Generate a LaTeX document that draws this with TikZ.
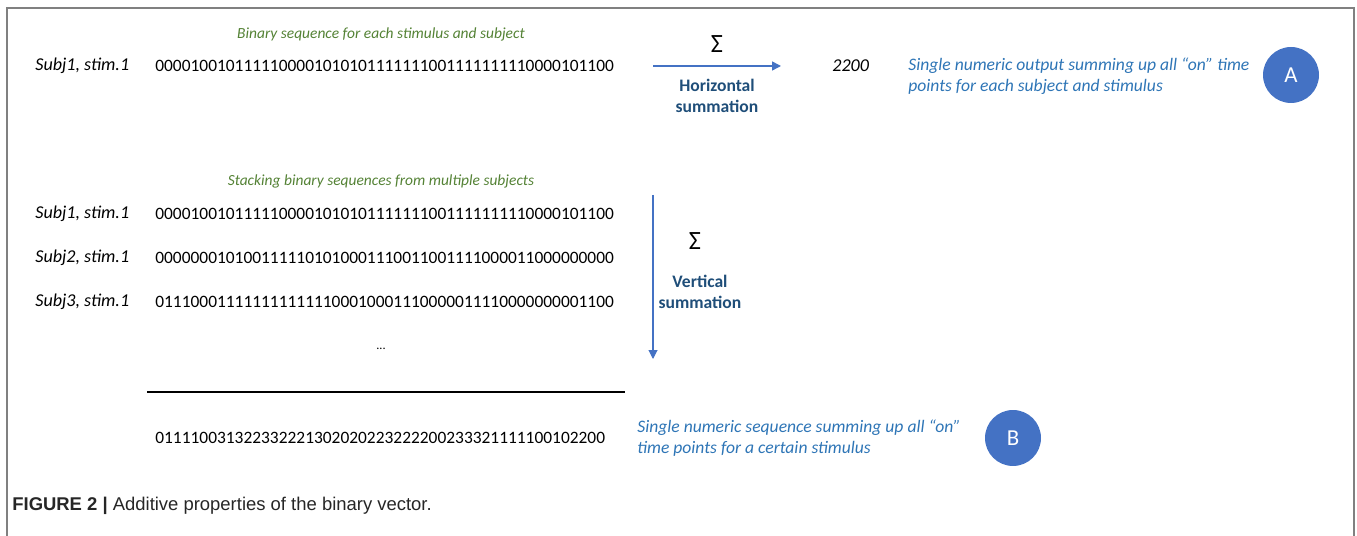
\documentclass[tikz,border=0pt]{standalone}
\usepackage{fontspec}
\setmainfont{Carlito}
\newfontfamily\capfont{Liberation Sans}
\usetikzlibrary{arrows.meta,positioning}
\definecolor{headgreen}{HTML}{548235}
\definecolor{noteblue}{HTML}{2E75B6}
\definecolor{darkblue}{HTML}{1F4E79}
\definecolor{badgeblue}{HTML}{4472C4}

\begin{document}
\begin{tikzpicture}[x=0.02cm,y=-0.02cm,
  seq/.style={anchor=west,inner sep=0pt,font=\fontsize{9.9}{12}\selectfont},
  subj/.style={anchor=west,inner sep=0pt,font=\fontsize{10.3}{12}\selectfont\itshape},
  head/.style={inner sep=0pt,text=headgreen,font=\fontsize{8.8}{10}\selectfont\itshape},
  note/.style={anchor=west,align=left,inner sep=0pt,text=noteblue,font=\fontsize{10}{12}\selectfont\itshape},
  sumlabel/.style={align=center,inner sep=0pt,text=darkblue,font=\fontsize{10}{12}\selectfont\bfseries},
  sigma/.style={inner sep=0pt,font=\fontsize{15}{15}\selectfont},
  badge/.style={circle,fill=badgeblue,text=white,minimum size=1.12cm,inner sep=0pt,font=\fontsize{13}{15}\selectfont},
  sumarrow/.style={badgeblue,line width=0.8pt,-{Triangle[length=5pt,width=5pt]}}]
\useasboundingbox (0,0) rectangle (1357,536);
% frame
\draw[gray,line width=0.8pt] (7,536) -- (7,8) -- (1354,8) -- (1354,536);

% horizontal summation
\node[head] (head1) at (381,34) {Binary sequence for each stimulus and subject};
\node[subj] (subj0) at (35,66) {Subj1, stim.1};
\node[seq] (bits0) at (155,66) {0000100101111100001010101111111001111111110000101100};
\coordinate (h0) at (653,66);
\coordinate (h1) at (781,66);
\draw[sumarrow] (h0) -- (h1);
\node[sigma] (sig1) at (717,44) {Σ};
\node[sumlabel] (hsum) at (717,95.5) {Horizontal\\summation};
\node[subj] (total0) at (832,66) {2200};
\node[note] (noteA) at (908,76.5) {Single numeric output summing up all “on” time\\points for each subject and stimulus};
\node[badge] (A) at (1291,75) {A};

% vertical summation
\node[head] (head2) at (381,181) {Stacking binary sequences from multiple subjects};
\foreach \row/\yy/\bits in {1/214/0000100101111100001010101111111001111111110000101100,
                            2/258/0000000101001111101010001110011001111000011000000000,
                            3/302/0111000111111111111100010001110000011110000000001100}{
  \node[subj] (subj\row) at (35,\yy) {Subj\row, stim.1};
  \node[seq] (bits\row) at (155,\yy) {\bits};
}
\node[inner sep=0pt,font=\scriptsize] (dots) at (381,349) {...};
\draw[line width=0.8pt] (147,392) -- (625,392);
\node[seq] (total) at (155,438) {011110031322332221302020223222200233321111100102200};
\coordinate (v0) at (653,195);
\coordinate (v1) at (653,359);
\draw[sumarrow,line width=0.6pt] (v0) -- (v1);
\node[sigma] (sig2) at (695,241) {Σ};
\node[sumlabel] (vsum) at (700,291.5) {Vertical\\summation};
\node[note] (noteB) at (637,438.5) {Single numeric sequence summing up all “on”\\time points for a certain stimulus};
\node[badge] (B) at (1013,438) {B};

% caption
\node[anchor=west,inner sep=0pt,text=black!85,font=\capfont\fontsize{10.5}{12}\selectfont] (caption) at (12,506)
  {\textbf{FIGURE 2 |} Additive properties of the binary vector.};
\end{tikzpicture}
\end{document}
